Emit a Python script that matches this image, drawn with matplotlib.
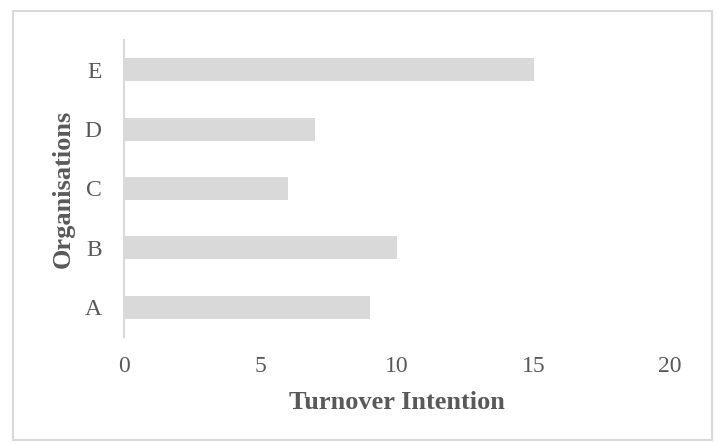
import matplotlib.pyplot as plt
from matplotlib.patches import Rectangle

# --- data ---
organisations = ["A", "B", "C", "D", "E"]
turnover = [9, 10, 6, 7, 15]
x_ticks = [0, 5, 10, 15, 20]

plt.rcParams['font.family'] = ['Liberation Serif', 'DejaVu Serif']

text_col = '#595959'
bar_col = '#d9d9d9'

fig = plt.figure(figsize=(7.17, 4.45), dpi=100)
W, H = 717, 445

# outer chart frame (Excel style)
fig.patches.append(Rectangle((13 / W, 1 - 440 / H), (712 - 13) / W, (440 - 11) / H,
                             transform=fig.transFigure, fill=False,
                             edgecolor='#d9d9d9', linewidth=1.5))

ax = fig.add_axes([124 / W, 1 - 337 / H, (670 - 124) / W, (337 - 40) / H])
ax.barh(organisations, turnover, height=0.39, color=bar_col)

ax.set_xlim(0, 20)
ax.set_ylim(-0.5, 4.5)
ax.set_xticks(x_ticks)

for s in ['top', 'right', 'bottom']:
    ax.spines[s].set_visible(False)
ax.spines['left'].set_color(bar_col)
ax.spines['left'].set_linewidth(1.5)

ax.tick_params(axis='both', length=0, labelsize=17, labelcolor=text_col)
ax.tick_params(axis='x', pad=14)
ax.tick_params(axis='y', pad=16)

ax.set_xlabel("Turnover Intention", fontsize=19, fontweight='bold', color=text_col, labelpad=10)
ax.set_ylabel("Organisations", fontsize=19, fontweight='bold', color=text_col, labelpad=7)

fig.savefig("out.png", dpi=100)
